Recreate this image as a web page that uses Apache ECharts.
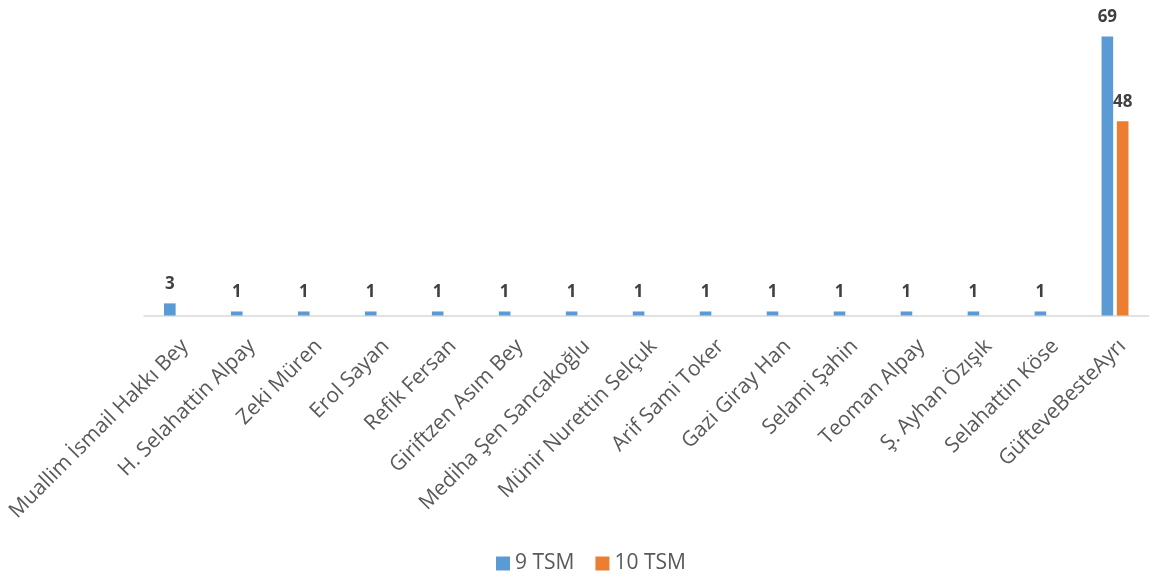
<!DOCTYPE html>
<html>
<head>
<meta charset="utf-8">
<script src="https://cdn.jsdelivr.net/npm/echarts@6/dist/echarts.min.js"></script>
<style>
  html, body { margin: 0; padding: 0; background: #ffffff; }
  #chart { width: 1153px; height: 578px; }
</style>
</head>
<body>
<div id="chart"></div>
<script>
// Composers / lyricists
const categories = [
  'Muallim İsmail Hakkı Bey',
  'H. Selahattin Alpay',
  'Zeki Müren',
  'Erol Sayan',
  'Refik Fersan',
  'Giriftzen Asım Bey',
  'Mediha Şen Sancakoğlu',
  'Münir Nurettin Selçuk',
  'Arif Sami Toker',
  'Gazi Giray Han',
  'Selami Şahin',
  'Teoman Alpay',
  'Ş. Ayhan Özışık',
  'Selahattin Köse',
  'GüfteveBesteAyrı'
];

// Number of works per category in each set
const tsm9 = [3, 1, 1, 1, 1, 1, 1, 1, 1, 1, 1, 1, 1, 1, 69];
const tsm10 = [null, null, null, null, null, null, null, null, null, null, null, null, null, null, 48];

const seriesNames = ['9 TSM', '10 TSM'];
const colors = ['#5b9bd5', '#ed7d31'];

const chart = echarts.init(document.getElementById('chart'), null, { renderer: 'canvas' });

const labelStyle = {
  show: true,
  position: 'top',
  distance: 11,
  color: '#404040',
  fontFamily: 'Open Sans',
  fontWeight: 'bold',
  fontSize: 17
};

chart.setOption({
  animation: false,
  textStyle: { fontFamily: 'Open Sans' },
  grid: { left: 144, right: 4.5, top: 0, bottom: 262.5, containLabel: false },
  legend: {
    data: seriesNames,
    top: 553,
    left: 496,
    padding: 0,
    itemWidth: 14,
    itemHeight: 14,
    itemGap: 21,
    icon: 'rect',
    textStyle: { color: '#595959', fontSize: 21, fontFamily: 'Open Sans' }
  },
  xAxis: {
    type: 'category',
    data: categories,
    axisLine: { show: true, lineStyle: { color: '#d9d9d9', width: 1.5 } },
    axisTick: { show: false },
    axisLabel: {
      interval: 0,
      rotate: 45,
      margin: 20,
      verticalAlign: 'top',
      color: '#595959',
      fontSize: 21,
      fontFamily: 'Open Sans'
    }
  },
  yAxis: {
    type: 'value',
    min: 0,
    max: 78,
    show: false,
    splitLine: { show: false }
  },
  series: [
    {
      name: seriesNames[0],
      type: 'bar',
      data: tsm9,
      barWidth: 11.6,
      barGap: '32%',
      itemStyle: { color: colors[0] },
      label: labelStyle
    },
    {
      name: seriesNames[1],
      type: 'bar',
      data: tsm10,
      barWidth: 11.6,
      barGap: '32%',
      itemStyle: { color: colors[1] },
      label: labelStyle
    }
  ]
});
</script>
</body>
</html>
